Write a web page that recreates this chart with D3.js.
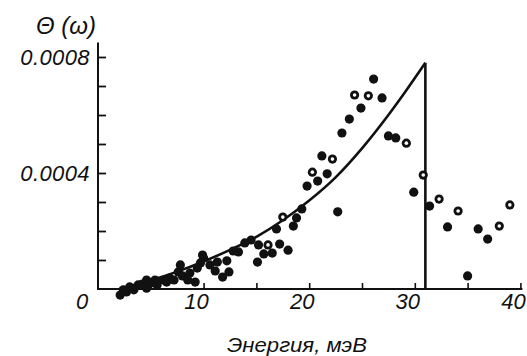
<!DOCTYPE html>
<html>
<head>
<meta charset="utf-8">
<script src="https://cdn.jsdelivr.net/npm/d3@7"></script>
<style>
  html, body { margin: 0; padding: 0; background: #fff; }
  svg { display: block; }
  text { font-family: "Liberation Sans", "DejaVu Sans", sans-serif; font-style: italic; fill: #111; }
</style>
</head>
<body>
<div id="chart"></div>
<script>
// theory curve
const curveE = [2, 5, 7.5, 10, 12.5, 15, 17.5, 20, 22.5, 25, 27.5, 29, 31];
const curveTheta = [0, 0.00003, 0.00006, 0.000095, 0.000135, 0.00018, 0.000237, 0.000305, 0.000385, 0.000485, 0.0006, 0.000675, 0.00078];
const cutoffE = 31;

// measured points, filled circles
const filledE = [26.1, 24.9, 26.9, 23.8, 23.1, 27.5, 28.2, 21.2, 21.7, 20.8, 19.8, 29.9, 19.3, 18.8, 22.7,
  18.5, 16.9, 14.5, 13.9, 15.2, 17.2, 18.0, 16.5, 15.7, 15.1, 13.3, 12.8, 12.2, 11.3, 11.1, 12.4, 11.8,
  10.0, 9.9, 9.7, 9.4, 8.7, 7.8, 7.6, 8.0, 8.5, 9.2, 6.8, 6.5, 6.2, 5.4, 5.6, 4.6, 4.6, 3.8, 3.0, 2.7,
  2.4, 2.1, 3.4, 4.2, 5.0, 7.2, 10.6,
  31.4, 33.1, 35.0, 36.0, 36.9];
const filledTheta = [0.000724, 0.000624, 0.000659, 0.000586, 0.000538, 0.000528, 0.000521, 0.000459, 0.000397, 0.000372, 0.000355, 0.000334, 0.000276, 0.000245, 0.000266,
  0.000217, 0.000207, 0.000169, 0.000159, 0.000152, 0.000155, 0.000134, 0.000124, 0.000121, 0.000093, 0.000128, 0.000131, 0.000097, 0.000093, 0.000062, 0.000059, 0.000041,
  0.000107, 0.000117, 0.00009, 0.000072, 0.000055, 0.000083, 0.000059, 0.000045, 0.000031, 0.000024, 0.000038, 0.000024, 0.000031, 0.000031, 0.000014, 0.000031, 0.000003, 0.000014, 0.000007, -0.00001,
  -0.000003, -0.000021, -0.000003, 0.000017, 0.000021, 0.000031, 0.000083,
  0.000286, 0.000214, 0.000045, 0.000207, 0.000172];

// measured points, open circles
const openE = [24.3, 25.6, 29.2, 22.2, 20.3, 30.8, 17.5, 16.1, 32.3, 34.1, 38.0, 39.0];
const openTheta = [0.000669, 0.000666, 0.000503, 0.000448, 0.000403, 0.000393, 0.000248, 0.000152, 0.00031, 0.000269, 0.000217, 0.00029];

const xTicks = [5, 10, 15, 20, 25, 30, 35, 40];
const xLabels = [10, 20, 30, 40];
const yTicks = [0.0001, 0.0002, 0.0003, 0.0004, 0.0005, 0.0006, 0.0007, 0.0008];
const yLabels = [0.0004, 0.0008];

const width = 527, height = 356;
const svg = d3.select('#chart').append('svg')
  .attr('width', width)
  .attr('height', height);

const x = d3.scaleLinear().domain([0, 40]).range([98, 520.4]);
const y = d3.scaleLinear().domain([0, 0.0008]).range([289, 57]);

// axes lines
svg.append('line')
  .attr('x1', x(0)).attr('x2', x(0))
  .attr('y1', y(0) + 1).attr('y2', y(0.00085))
  .attr('stroke', '#111').attr('stroke-width', 2);
svg.append('line')
  .attr('x1', x(0) - 1).attr('x2', x(40) + 2)
  .attr('y1', y(0)).attr('y2', y(0))
  .attr('stroke', '#111').attr('stroke-width', 2);

// ticks pointing inside
const yAxis = svg.append('g')
  .attr('transform', `translate(${x(0)},0)`)
  .call(d3.axisRight(y).tickValues(yTicks).tickSize(8).tickFormat(''));
yAxis.select('.domain').remove();
yAxis.selectAll('line').attr('stroke', '#111').attr('stroke-width', 1.8);

const xAxis = svg.append('g')
  .attr('transform', `translate(0,${y(0)})`)
  .call(d3.axisTop(x).tickValues(xTicks).tickSize(6).tickFormat(''));
xAxis.select('.domain').remove();
xAxis.selectAll('line').attr('stroke', '#111').attr('stroke-width', 1.6);

// tick labels
svg.selectAll('.xlab')
  .data(xLabels)
  .enter().append('text')
  .attr('class', 'xlab')
  .attr('x', d => x(d) - 7)
  .attr('y', 309)
  .attr('text-anchor', 'middle')
  .attr('font-size', 22)
  .text(d => d);

svg.selectAll('.ylab')
  .data(yLabels)
  .enter().append('text')
  .attr('class', 'ylab')
  .attr('x', 90)
  .attr('y', d => y(d) + 8)
  .attr('text-anchor', 'end')
  .attr('font-size', 22)
  .attr('letter-spacing', 0.4)
  .text(d => d3.format('.4f')(d));

svg.append('text')
  .attr('x', 82).attr('y', 309)
  .attr('text-anchor', 'middle')
  .attr('font-size', 22)
  .text('0');

// titles
svg.append('text')
  .attr('x', 66).attr('y', 34)
  .attr('text-anchor', 'middle')
  .attr('font-size', 24)
  .text('Θ (ω)');

svg.append('text')
  .attr('x', 297).attr('y', 352)
  .attr('text-anchor', 'middle')
  .attr('font-size', 21)
  .attr('textLength', 140)
  .attr('lengthAdjust', 'spacingAndGlyphs')
  .text('Энергия, мэВ');

// theory curve + cutoff
const curveData = curveE.map((e, i) => [e, curveTheta[i]]);
const line = d3.line()
  .x(d => x(d[0]))
  .y(d => y(d[1]))
  .curve(d3.curveMonotoneX);

svg.append('path')
  .datum(curveData)
  .attr('d', line)
  .attr('fill', 'none')
  .attr('stroke', '#111')
  .attr('stroke-width', 2.6)
  .attr('stroke-linejoin', 'round');

svg.append('line')
  .attr('x1', x(cutoffE)).attr('x2', x(cutoffE))
  .attr('y1', y(curveTheta[curveTheta.length - 1])).attr('y2', y(0))
  .attr('stroke', '#111').attr('stroke-width', 2.6);

// points
const filled = filledE.map((e, i) => [e, filledTheta[i]]);
svg.selectAll('.pt')
  .data(filled)
  .enter().append('circle')
  .attr('class', 'pt')
  .attr('cx', d => x(d[0]))
  .attr('cy', d => y(d[1]))
  .attr('r', 4.6)
  .attr('fill', '#111');

const open = openE.map((e, i) => [e, openTheta[i]]);
const og = svg.selectAll('.opt')
  .data(open)
  .enter().append('g')
  .attr('class', 'opt');
og.append('circle')
  .attr('cx', d => x(d[0]))
  .attr('cy', d => y(d[1]))
  .attr('r', 4.6)
  .attr('fill', '#111');
og.append('circle')
  .attr('cx', d => x(d[0]))
  .attr('cy', d => y(d[1]))
  .attr('r', 1.8)
  .attr('fill', '#fff');
</script>
</body>
</html>
